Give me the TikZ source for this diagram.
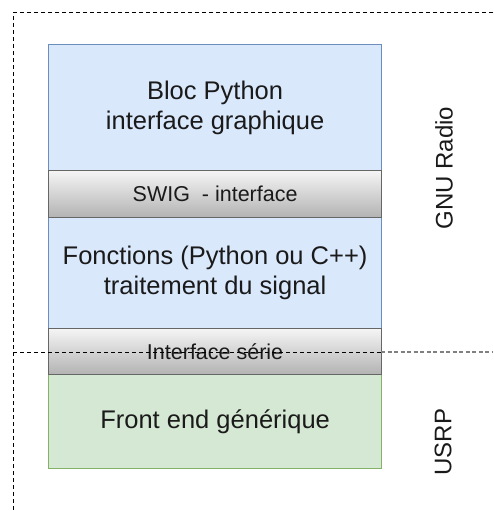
\documentclass[tikz,border=0pt]{standalone}
\usepackage{fontspec}
\setmainfont{Liberation Sans}
\definecolor{bluefill}{HTML}{DAE8FC}
\definecolor{blueline}{HTML}{6C8EBF}
\definecolor{greenfill}{HTML}{D5E8D4}
\definecolor{greenline}{HTML}{82B366}
\definecolor{grayline}{HTML}{666666}
\definecolor{txt}{HTML}{1A1A1A}
\begin{document}
\begin{tikzpicture}[x=1pt,y=-1pt,
  layer/.style={rectangle, anchor=north west, minimum width=333pt, inner sep=0pt,
     align=center, text=txt, line width=1.2pt},
  bluebox/.style={layer, fill=bluefill, draw=blueline, font=\fontsize{25.5}{30}\selectfont},
  greenbox/.style={layer, fill=greenfill, draw=greenline, font=\fontsize{25.5}{30}\selectfont},
  graybox/.style={layer, top color=gray!8, bottom color=gray!60, draw=grayline, font=\fontsize{21.5}{25}\selectfont},
  sidelabel/.style={rotate=90, text=txt, font=\fontsize{24}{28}\selectfont, inner sep=0pt},
  border/.style={draw=black, line width=1pt, dash pattern=on 4pt off 3pt}]
\useasboundingbox (0,0) rectangle (493,511);
\node[bluebox, minimum height=126pt] (py) at (48,44) {Bloc Python\\interface graphique};
\node[bluebox, minimum height=111pt] (fn) at (48,217) {Fonctions (Python ou C++)\\traitement du signal};
\node[greenbox, minimum height=94pt] (fe) at (48,374) {Front end générique};
\node[graybox, minimum height=47pt] (swig) at (48,170) {SWIG\ \ - interface};
\node[graybox, minimum height=46pt] (ser) at (48,328) {Interface série};
\node[sidelabel] (gnu) at (444,168) {GNU Radio};
\node[sidelabel] (usrp) at (443,442) {USRP};
\coordinate (tl) at (13,13);
\coordinate (tr) at (493,13);
\coordinate (bl) at (13,511);
\coordinate (ml) at (13,352);
\coordinate (mm) at (381,352);
\coordinate (mr) at (493,352);
\draw[border] (tr) -- (tl) -- (bl);
\draw[border] (ml) -- (mm);
\draw[draw=gray, line width=1.2pt, dash pattern=on 4pt off 2.5pt] (mm) -- (mr);
\end{tikzpicture}
\end{document}
